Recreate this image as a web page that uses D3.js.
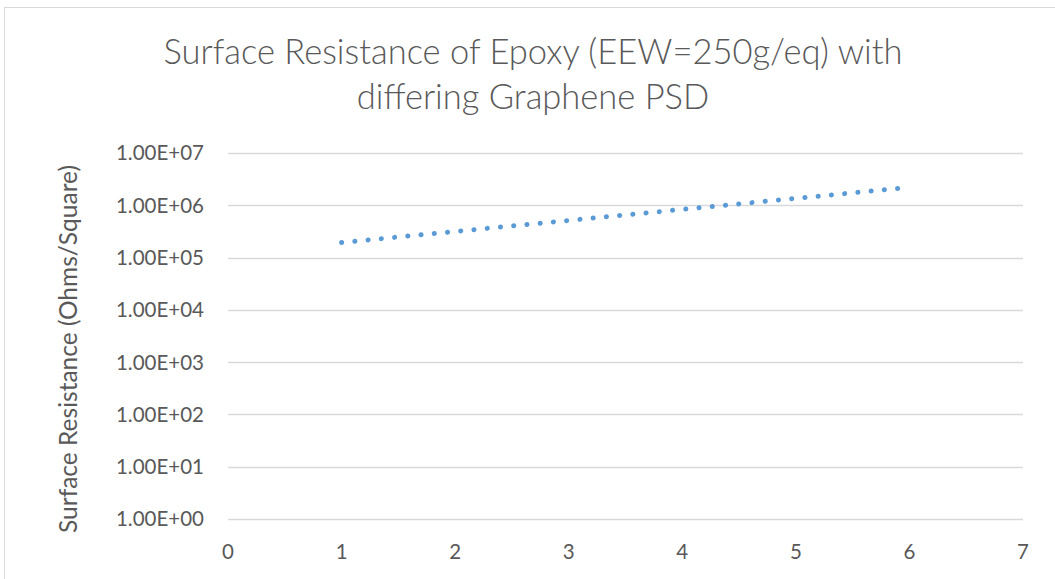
<!DOCTYPE html>
<html>
<head>
<meta charset="utf-8">
<script src="https://cdn.jsdelivr.net/npm/d3@7"></script>
<style>
  body { margin: 0; background: #fff; }
  text { font-family: Lato, "Open Sans", sans-serif; fill: #595959; }
</style>
</head>
<body>
<div id="chart-area"></div>
<script>
let width = 1055,
    height = 579;

// data
let xValues = [1, 5.9];
let yValues = [1.94e5, 2.1e6];
let xTicks = [0, 1, 2, 3, 4, 5, 6, 7];
let yTicks = [1, 10, 100, 1000, 1e4, 1e5, 1e6, 1e7];
let titleLines = ["Surface Resistance of Epoxy (EEW=250g/eq) with", "differing Graphene PSD"];
let yTitle = "Surface Resistance (Ohms/Square)";

let svg = d3.select("#chart-area").append("svg")
    .attr("width", width)
    .attr("height", height);

// chart border
svg.append("rect")
    .attr("x", 4.5).attr("y", 7.5)
    .attr("width", 1100).attr("height", 700)
    .attr("fill", "none")
    .attr("stroke", "#d9d9d9");

let x = d3.scaleLinear().domain([0, 7]).range([228, 1023]);
let y = d3.scaleLog().domain([1, 1e7]).range([519, 153]);

// gridlines
svg.selectAll(".grid")
    .data(yTicks)
    .enter().append("line")
    .attr("class", "grid")
    .attr("x1", x(0)).attr("x2", x(7))
    .attr("y1", d => Math.round(y(d)) + 0.5)
    .attr("y2", d => Math.round(y(d)) + 0.5)
    .style("stroke", "#d9d9d9")
    .style("stroke-width", 1.3);

// y tick labels
svg.selectAll(".ylab")
    .data(yTicks)
    .enter().append("text")
    .attr("class", "ylab")
    .attr("x", 204)
    .attr("y", d => y(d))
    .attr("dy", "0.36em")
    .attr("text-anchor", "end")
    .style("font-size", "20.5px")
    .text(d => d.toExponential(2).toUpperCase().replace(/E([+-])(\d)$/, "E$10$2"));

// x tick labels
svg.selectAll(".xlab")
    .data(xTicks)
    .enter().append("text")
    .attr("class", "xlab")
    .attr("x", d => x(d))
    .attr("y", 559)
    .attr("text-anchor", "middle")
    .style("font-size", "20.5px")
    .text(d => d);

// title
svg.selectAll(".title")
    .data(titleLines)
    .enter().append("text")
    .attr("class", "title")
    .attr("x", 533)
    .attr("y", (d, i) => 64 + i * 45)
    .attr("text-anchor", "middle")
    .style("font-size", "34.5px")
    .style("font-weight", 300)
    .text(d => d);

// y axis title
svg.append("text")
    .attr("transform", "translate(77,349) rotate(-90)")
    .attr("text-anchor", "middle")
    .style("font-size", "24.5px")
    .text(yTitle);

// dotted series line
let line = d3.line()
    .x(d => x(d[0]))
    .y(d => y(d[1]));

svg.append("path")
    .datum(xValues.map((v, i) => [v, yValues[i]]))
    .attr("d", line)
    .attr("fill", "none")
    .style("stroke", "#5b9bd5")
    .style("stroke-width", 5)
    .style("stroke-linecap", "round")
    .style("stroke-dasharray", "0.1 13.2");
</script>
</body>
</html>
